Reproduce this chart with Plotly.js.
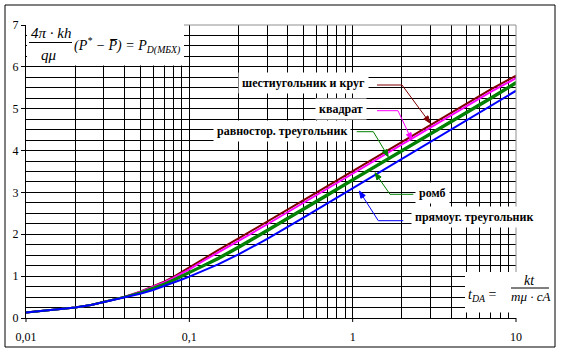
<!DOCTYPE html>
<html><head><meta charset="utf-8">
<script src="https://cdn.plot.ly/plotly-3.0.1.min.js"></script>
<style>html,body{margin:0;padding:0;background:#fff;}#chart{width:562px;height:353px;}</style>
</head><body><div id="chart"></div>
<script>
// ---- data ----
const tDA = [0.01,0.015,0.02,0.025,0.03,0.035,0.04,0.05,0.06,0.07,0.08,0.09,0.1,0.12,0.15,0.2,0.3,0.5,0.7,1,2,3,5,7,10];
const hexCircle     = [0.13,0.19,0.25,0.31,0.38,0.44,0.50,0.63,0.75,0.87,0.98,1.10,1.21,1.41,1.62,1.90,2.30,2.81,3.15,3.51,4.20,4.61,5.12,5.46,5.79];
const square        = [0.13,0.19,0.25,0.31,0.38,0.44,0.50,0.62,0.74,0.85,0.96,1.06,1.16,1.35,1.56,1.84,2.24,2.75,3.09,3.45,4.14,4.55,5.06,5.40,5.73];
const equiTriangle  = [0.13,0.19,0.25,0.31,0.38,0.44,0.50,0.61,0.72,0.82,0.92,1.01,1.10,1.25,1.44,1.71,2.11,2.62,2.96,3.32,4.01,4.42,4.93,5.27,5.64];
const rhombus       = [0.13,0.19,0.25,0.31,0.38,0.44,0.50,0.60,0.70,0.80,0.89,0.98,1.07,1.22,1.40,1.67,2.07,2.58,2.92,3.28,3.97,4.38,4.89,5.23,5.60];
const rightTriangle = [0.13,0.19,0.25,0.31,0.38,0.44,0.49,0.58,0.67,0.76,0.845,0.92,0.99,1.12,1.28,1.52,1.89,2.40,2.74,3.09,3.79,4.20,4.71,5.06,5.43];
const seriesNames = ['шестиугольник и круг','квадрат','равностор. треугольник','ромб','прямоуг. треугольник'];
const seriesColors = ['#800000','#ff00ff','#008000','#008000','#0000ff'];
const xTickVals = [0.01,0.1,1,10];
const xTickText = ['0,01','0,1','1','10'];
const yTickVals = [0,1,2,3,4,5,6,7];

// ---- geometry helpers (plot area in px) ----
const L=26, R=516, T=25, B=318;
const px = x => (x-L)/(R-L);
const py = y => (B-y)/(B-T);

const seriesY = [hexCircle, square, equiTriangle, rhombus, rightTriangle];
const traces = seriesY.map((ys,i)=>({
  x: tDA, y: ys, type:'scatter', mode:'lines', name: seriesNames[i],
  line:{color: seriesColors[i], width:2}, hoverinfo:'skip'
}));

// log grid positions (axis decoration)
const gridVals = [];
for (let e=-2;e<=0;e++) for (let m=1;m<=9;m++) gridVals.push(+(m*Math.pow(10,e)).toPrecision(3));
gridVals.push(10);
const gridText = gridVals.map(v => { const i = xTickVals.indexOf(v); return i>=0 ? xTickText[i] : ''; });

const shapes = [];
// outer frame
shapes.push({type:'rect', xref:'paper', yref:'paper', x0:px(5), x1:px(555), y0:py(347), y1:py(5), line:{color:'#000', width:1}, layer:'above'});
// white boxes behind formulas
shapes.push({type:'rect', xref:'paper', yref:'paper', x0:px(27), x1:px(184), y0:py(65.5), y1:py(24), fillcolor:'#fff', line:{width:0}, layer:'above'});
shapes.push({type:'rect', xref:'paper', yref:'paper', x0:px(465), x1:px(553), y0:py(312.5), y1:py(272), fillcolor:'#fff', line:{width:0}, layer:'above'});
// gray top and right borders
shapes.push({type:'line', xref:'paper', yref:'paper', x0:px(184), x1:1, y0:1, y1:1, line:{color:'#909090', width:1}, layer:'above'});
shapes.push({type:'line', xref:'paper', yref:'paper', x0:1, x1:1, y0:py(272), y1:1, line:{color:'#909090', width:1}, layer:'above'});
// decade ticks below x axis
for (let k=0;k<4;k++) shapes.push({type:'line', xref:'paper', yref:'paper', x0:k/3, x1:k/3, y0:py(318), y1:py(322), line:{color:'#000', width:1}, layer:'above'});
// fraction bars
shapes.push({type:'line', xref:'paper', yref:'paper', x0:px(29), x1:px(72), y0:py(42.5), y1:py(42.5), line:{color:'#000', width:1}, layer:'above'});
shapes.push({type:'line', xref:'paper', yref:'paper', x0:px(511), x1:px(549), y0:py(288), y1:py(288), line:{color:'#000', width:1}, layer:'above'});

// label leader lines: [label center x, y, horizontal seg x0, x1, y, tip x, y]
const arrowGeom = [
  [303.5, 82.7, 377, 402, 85, 430, 123],
  [340.5, 109.3, 377, 398, 110.7, 411.7, 140],
  [282, 130.7, 356.7, 373.3, 131.7, 388.3, 156.7],
  [432, 193, 413.3, 390, 194.3, 375, 172.7],
  [473.5, 217.3, 403.3, 378.3, 220.7, 359.3, 191]
];
const P = (x,y) => px(x).toFixed(5)+','+py(y).toFixed(5);
const annotations = [];
arrowGeom.forEach((g,i)=>{
  const [lx,ly,h0,h1,hy,tx,ty] = g;
  const c = seriesColors[i];
  const dx = tx-h1, dy = ty-hy, len = Math.hypot(dx,dy), ux = dx/len, uy = dy/len;
  const hl = 7, hw = 2.6;
  const bx = tx-ux*hl, by = ty-uy*hl;
  shapes.push({type:'path', xref:'paper', yref:'paper', layer:'above', line:{color:c, width:1},
    path:'M'+P(h0,hy)+'L'+P(h1,hy)+'L'+P(bx,by)});
  shapes.push({type:'path', xref:'paper', yref:'paper', layer:'above', line:{color:c, width:1}, fillcolor:c,
    path:'M'+P(tx,ty)+'L'+P(bx-uy*hw, by+ux*hw)+'L'+P(bx+uy*hw, by-ux*hw)+'Z'});
  annotations.push({xref:'paper', yref:'paper', x:px(lx), y:py(ly), xanchor:'center', yanchor:'middle', showarrow:false,
    text:'<b>'+seriesNames[i]+'</b>', bgcolor:'#fff', borderpad:3,
    font:{family:'Liberation Serif', size:12, color:'#000'}});
});

// formulas
const ff = 'Liberation Serif';
annotations.push({xref:'paper', yref:'paper', x:px(51), y:py(33), xanchor:'center', yanchor:'middle', showarrow:false,
  text:'<i>4π · kh</i>', font:{family:ff, size:15, color:'#000'}});
annotations.push({xref:'paper', yref:'paper', x:px(49), y:py(55), xanchor:'center', yanchor:'middle', showarrow:false,
  text:'<i>qμ</i>', font:{family:ff, size:15, color:'#000'}});
annotations.push({xref:'paper', yref:'paper', x:px(72), y:py(45), xanchor:'left', yanchor:'middle', showarrow:false,
  text:'<i>(P<sup>*</sup> − P\u0305) = P<sub>D(MБХ)</sub></i>', font:{family:ff, size:14, color:'#000'}});
annotations.push({xref:'paper', yref:'paper', x:px(466), y:py(295), xanchor:'left', yanchor:'middle', showarrow:false,
  text:'<i>t<sub>DA</sub></i> =', font:{family:ff, size:14, color:'#000'}});
annotations.push({xref:'paper', yref:'paper', x:px(529), y:py(280), xanchor:'center', yanchor:'middle', showarrow:false,
  text:'<i>kt</i>', font:{family:ff, size:14, color:'#000'}});
annotations.push({xref:'paper', yref:'paper', x:px(530), y:py(296), xanchor:'center', yanchor:'middle', showarrow:false,
  text:'<i>mμ · cA</i>', font:{family:ff, size:13, color:'#000'}});

const layout = {
  width:562, height:353,
  margin:{l:L, r:562-R, t:T, b:353-B, pad:0},
  paper_bgcolor:'#fff', plot_bgcolor:'#fff',
  showlegend:false,
  font:{family:ff, size:11, color:'#000'},
  xaxis:{type:'log', range:[-2,1], tickmode:'array', tickvals:gridVals, ticktext:gridText, tickangle:0,
    showgrid:true, gridcolor:'#000', gridwidth:1, ticks:'', showline:true, linecolor:'#000', linewidth:1,
    zeroline:false, ticklabelstandoff:8, tickfont:{family:ff, size:12, color:'#000'}},
  yaxis:{range:[0,7], tickmode:'array', tickvals:yTickVals, showgrid:true, gridcolor:'#000', gridwidth:1,
    minor:{dtick:0.25, showgrid:true, gridcolor:'#000', gridwidth:1},
    ticks:'outside', ticklen:4, tickcolor:'#000', showline:true, linecolor:'#000', linewidth:1, zeroline:false,
    tickfont:{family:ff, size:12, color:'#000'}},
  shapes: shapes,
  annotations: annotations
};
Plotly.newPlot('chart', traces, layout, {staticPlot:true, displayModeBar:false});
</script></body></html>
